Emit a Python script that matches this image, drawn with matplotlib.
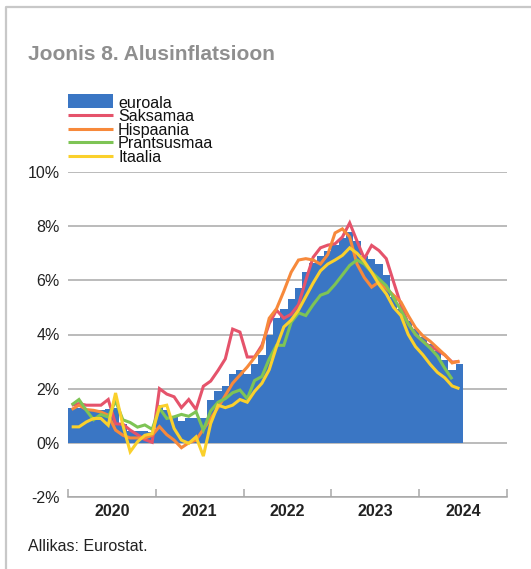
import matplotlib
matplotlib.use("Agg")
import matplotlib.pyplot as plt
from matplotlib.patches import Rectangle
from matplotlib.lines import Line2D
import numpy as np

plt.rcParams['font.family'] = ['Liberation Sans', 'DejaVu Sans']

# ---------------- data ----------------
years = ['2020', '2021', '2022', '2023', '2024']
series_names = ['euroala', 'Saksamaa', 'Hispaania', 'Prantsusmaa', 'Itaalia']
y_ticks = [-2, 0, 2, 4, 6, 8, 10]
y_ticklabels = ['-2%', '0%', '2%', '4%', '6%', '8%', '10%']

euroala = [1.3, 1.3, 1.25, 1.2, 1.2, 1.25, 1.3, 0.7, 0.42, 0.42, 0.42, 0.4,
           1.4, 1.2, 0.95, 0.8, 0.9, 0.9, 0.9, 1.6, 1.9, 2.1, 2.55, 2.7,
           2.55, 2.9, 3.25, 4.0, 4.6, 4.95, 5.3, 5.7, 6.3, 6.65, 6.9, 7.1,
           7.3, 7.55, 7.8, 7.45, 6.9, 6.8, 6.6, 6.2, 5.4, 4.95, 4.5, 4.2,
           3.9, 3.65, 3.4, 3.05, 2.7, 2.9]

saksamaa = [1.39, 1.45, 1.39, 1.39, 1.39, 1.6, 0.7, 0.69, 0.47, 0.3, 0.12, 0.02,
            2.0, 1.8, 1.7, 1.3, 1.6, 1.23, 2.09, 2.28, 2.67, 3.1, 4.2, 4.09,
            3.17, 3.17, 3.6, 4.4, 4.9, 4.6, 4.75, 5.1, 6.0, 6.85, 7.2, 7.3,
            7.35, 7.6, 8.12, 7.45, 6.8, 7.29, 7.1, 6.8, 5.94, 5.1, 4.4, 4.0,
            3.75, 3.55, 3.42, 3.24, 2.98, 3.0]

hispaania = [1.23, 1.39, 1.23, 1.2, 1.14, 1.02, 0.47, 0.28, 0.18, 0.18, 0.18, 0.28,
             0.6, 0.3, 0.1, -0.18, 0.0, 0.1, 0.5, 0.9, 1.3, 1.75, 2.2, 2.5,
             2.8, 3.15, 3.5, 4.6, 4.95, 5.6, 6.3, 6.75, 6.8, 6.75, 6.6, 6.95,
             7.75, 7.9, 7.6, 6.6, 6.1, 5.75, 5.94, 5.7, 5.45, 5.2, 4.7, 4.25,
             3.95, 3.75, 3.5, 3.25, 2.95, 3.02]

prantsusmaa = [1.4, 1.6, 1.2, 0.85, 1.05, 0.95, 1.55, 0.85, 0.75, 0.58, 0.66, 0.5,
               1.28, 0.9, 0.96, 1.05, 0.98, 1.15, 0.47, 1.18, 1.5, 1.63, 1.85, 1.95,
               1.63, 2.3, 2.45, 3.1, 3.6, 3.6, 4.45, 4.8, 4.7, 5.1, 5.45, 5.55,
               5.85, 6.2, 6.55, 6.75, 6.6, 6.3, 6.05, 5.8, 5.35, 4.9, 4.4, 4.0,
               3.75, 3.5, 3.2, 2.75, 2.35]

itaalia = [0.59, 0.59, 0.77, 0.9, 0.9, 0.65, 1.84, 0.65, -0.33, 0.04, 0.28, 0.34,
           1.33, 1.39, 0.53, 0.1, -0.02, 0.22, -0.49, 0.71, 1.39, 1.3, 1.39, 1.6,
           1.5, 1.9, 2.2, 2.7, 3.55, 4.28, 4.53, 4.9, 5.4, 5.9, 6.35, 6.6,
           6.75, 6.92, 7.2, 7.0, 6.7, 6.3, 5.85, 5.5, 5.0, 4.7, 4.0, 3.55,
           3.25, 2.9, 2.6, 2.4, 2.1, 2.0]

# ---------------- style ----------------
BLUE = '#3A76C4'
RED = '#E5536B'
ORANGE = '#F7893B'
GREEN = '#7EC455'
YELLOW = '#FAD02C'
GRID = '#A8A8A8'
FRAME = '#C8C8C8'
TXT = '#222222'

W, H = 531, 569
fig = plt.figure(figsize=(W / 100, H / 100), dpi=100)


def fx(px):
    return px / W


def fy(py):
    return 1 - py / H


ax = fig.add_axes([fx(68), fy(497), fx(507) - fx(68), fy(172) - fy(497)])
ax.set_xlim(0, 60)
ax.set_ylim(-2, 10)

xe = np.arange(len(euroala)) + 0.5
ax.bar(xe, euroala, width=1.0, color=BLUE, linewidth=0, zorder=2)

lw = 2.2
for vals, col in [(saksamaa, RED), (hispaania, ORANGE), (prantsusmaa, GREEN), (itaalia, YELLOW)]:
    ax.plot(np.arange(len(vals)) + 0.5, vals, color=col, lw=lw, zorder=3,
            solid_joinstyle='miter', solid_capstyle='butt')

# grid / axes
ax.set_yticks(y_ticks)
ax.set_yticklabels(y_ticklabels)
ax.yaxis.grid(True, color=GRID, lw=1.1)
ax.set_axisbelow(True)
for s in ['left', 'right', 'top']:
    ax.spines[s].set_visible(False)
ax.spines['bottom'].set_color(GRID)
ax.spines['bottom'].set_linewidth(1.1)
ax.tick_params(axis='y', length=0, pad=6, labelsize=11.5, labelcolor=TXT)

ax.set_xticks(np.arange(0, 61, 12))
ax.set_xticklabels([])
ax.tick_params(axis='x', which='major', direction='in', length=6, width=1.1, color=GRID)
ax.set_xticks(np.arange(6, 60, 12), minor=True)
ax.set_xticklabels(years, minor=True, fontweight='bold', fontsize=11.5, color=TXT)
ax.tick_params(axis='x', which='minor', length=0, pad=5)

# title and source
fig.text(fx(28), fy(60), 'Joonis 8. Alusinflatsioon', fontsize=15, fontweight='bold',
         color='#8F8F8F', ha='left', va='baseline')
fig.text(fx(28), fy(551), 'Allikas: Eurostat.', fontsize=11.5, color=TXT,
         ha='left', va='baseline')

# legend (manual)
fig.add_artist(Rectangle((fx(68), fy(108)), fx(113) - fx(68), fy(94) - fy(108),
                         transform=fig.transFigure, color=BLUE, lw=0))
leg_lines = [(115, RED), (128.5, ORANGE), (142, GREEN), (155.5, YELLOW)]
for yy, col in leg_lines:
    fig.add_artist(Line2D([fx(68), fx(113)], [fy(yy), fy(yy)], transform=fig.transFigure,
                          color=col, lw=lw, solid_capstyle='butt'))
baselines = [107.5, 121, 134.5, 148, 161.5]
for name, b in zip(series_names, baselines):
    fig.text(fx(118), fy(b), name, fontsize=11.6, color='#111111', ha='left', va='baseline')

# frame
fig.add_artist(Line2D([fx(6), fx(6), 1.0], [0.0, fy(7), fy(7)], transform=fig.transFigure,
                      color=FRAME, lw=1.6))

fig.savefig('out.png', dpi=100)
